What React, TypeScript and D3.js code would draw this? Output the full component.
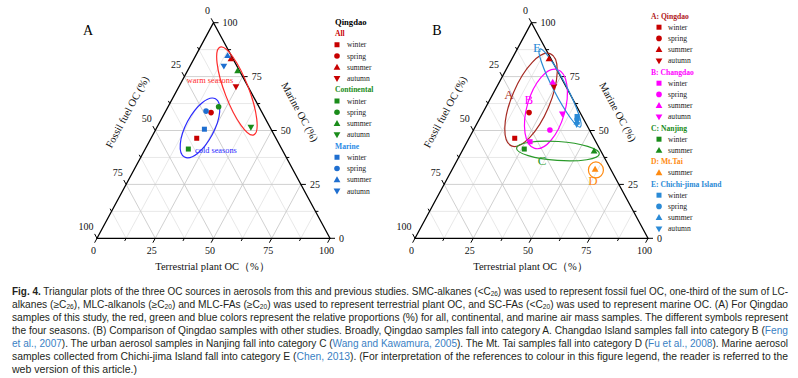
import React from 'react';
import * as d3 from 'd3';

const W = 798, H = 378;
const SERIF = '"Liberation Serif", "DejaVu Serif", serif';
const SANS = '"Liberation Sans", "DejaVu Sans", sans-serif';

// ---------- data ----------
const seasons = ['winter', 'spring', 'summer', 'autumn'];
const seasonShapes = ['square', 'circle', 'triangle', 'triangleDown'];

// Panel A (Qingdao, this study)  values in %
const allFossil = [34.0, 21.9, 0.9, 5.2];
const allTerr = [19.6, 19.8, 15.9, 24.5];
const allMarine = [46.4, 58.3, 83.2, 70.3];
const contFossil = [40.1, 17.3, 0.8, 8.2];
const contTerr = [18.5, 21.7, 21.5, 40.3];
const contMarine = [41.4, 61.0, 77.7, 51.5];
const marFossil = [28.6, 23.7, 1.6, 5.6];
const marTerr = [20.8, 17.3, 13.7, 14.5];
const marMarine = [50.6, 59.0, 84.7, 79.9];

// Panel B (comparison)
const cdFossil = [28.2, 17.0, 4.7, 7.9];
const cdTerr = [27.0, 32.8, 22.9, 34.4];
const cdMarine = [44.8, 50.2, 72.4, 57.7];
const njSeasons = ['winter', 'summer'];
const njFossil = [32.4, 2.9];
const njTerr = [26.2, 56.6];
const njMarine = [41.4, 40.5];
const mtSeasons = ['summer'];
const mtFossil = [6.7];
const mtTerr = [61.3];
const mtMarine = [32.0];
const cjFossil = [2.2, 2.9, 3.6, 4.2];
const cjTerr = [41.3, 42.0, 42.5, 43.0];
const cjMarine = [56.5, 55.1, 53.9, 52.8];

const majorTicks = [0, 25, 50, 75, 100];
const minorTicks = [12.5, 37.5, 62.5, 87.5];

// ---------- colours ----------
const COL = {
  red: '#c80000',
  green: '#1a8c1a',
  blue: '#1f6fd0',
  magenta: '#ff00ff',
  orange: '#ff8a10',
  cj: '#2a8ad6',
  darkred: '#a52a22',
  warm: '#ff2a2a',
  cold: '#2a2aff',
  grid: '#c4c4c4',
  gridMinor: '#e2e2e2',
};

const shapeOf = (s: string) => seasonShapes[seasons.indexOf(s)];

function Marker({ shape, x, y, color }: { shape: string; x: number; y: number; color: string }) {
  if (shape === 'square') return <rect x={x - 2.5} y={y - 2.5} width={5} height={5} fill={color} />;
  if (shape === 'circle') return <circle cx={x} cy={y} r={2.8} fill={color} />;
  if (shape === 'triangle')
    return <path d={`M${x},${y - 3.5}L${x + 3.4},${y + 2.4}L${x - 3.4},${y + 2.4}Z`} fill={color} />;
  return <path d={`M${x},${y + 3.5}L${x + 3.4},${y - 2.4}L${x - 3.4},${y - 2.4}Z`} fill={color} />;
}

type Geo = { x0: number; x1: number; yBase: number; yApex: number };

function makeTern(g: Geo) {
  const xs = d3.scaleLinear().domain([0, 100]).range([g.x0, g.x1]);
  const ys = d3.scaleLinear().domain([0, 100]).range([g.yBase, g.yApex]);
  return (T: number, M: number): [number, number] => [xs(T + M / 2), ys(M)];
}

function Ternary({ g }: { g: Geo }) {
  const p = makeTern(g);
  const apex = p(0, 100), bl = p(0, 0), br = p(100, 0);
  const norm = (v: [number, number]) => {
    const l = Math.hypot(v[0], v[1]);
    return [v[0] / l, v[1] / l];
  };
  const dB = norm([bl[0] - apex[0], bl[1] - apex[1]]);
  const dL = norm([apex[0] - br[0], apex[1] - br[1]]);
  const grid: JSX.Element[] = [];
  const addGrid = (v: number, col: string, key: string) => {
    const a1 = p(0, v), a2 = p(100 - v, v);
    const b1 = p(v, 0), b2 = p(v, 100 - v);
    const c1 = p(100 - v, 0), c2 = p(0, 100 - v);
    [[a1, a2], [b1, b2], [c1, c2]].forEach(([s, e], i) =>
      grid.push(<line key={key + i} x1={s[0]} y1={s[1]} x2={e[0]} y2={e[1]} stroke={col} strokeWidth={0.8} />)
    );
  };
  minorTicks.forEach((v) => addGrid(v, COL.gridMinor, 'm' + v));
  majorTicks.slice(1, -1).forEach((v) => addGrid(v, COL.grid, 'M' + v));

  const ticks: JSX.Element[] = [];
  const labels: JSX.Element[] = [];
  const allT = [...majorTicks.map((v) => [v, 5]), ...minorTicks.map((v) => [v, 3])];
  allT.forEach(([v, len]) => {
    const eb = p(v, 0);
    ticks.push(<line key={'tb' + v} x1={eb[0]} y1={eb[1]} x2={eb[0] + dB[0] * len} y2={eb[1] + dB[1] * len} stroke="#000" strokeWidth={1} />);
    const el = p(0, 100 - v);
    ticks.push(<line key={'tl' + v} x1={el[0]} y1={el[1]} x2={el[0] + dL[0] * len} y2={el[1] + dL[1] * len} stroke="#000" strokeWidth={1} />);
    const er = p(100 - v, v);
    ticks.push(<line key={'tr' + v} x1={er[0]} y1={er[1]} x2={er[0] + len} y2={er[1]} stroke="#000" strokeWidth={1} />);
  });
  majorTicks.forEach((v) => {
    const eb = p(v, 0);
    labels.push(<text key={'lb' + v} x={eb[0] - 3.5} y={eb[1] + 12} textAnchor="middle" dominantBaseline="central">{v}</text>);
    const el = p(0, 100 - v);
    labels.push(<text key={'ll' + v} x={el[0] - 3.5} y={el[1] - 12} textAnchor="end" dominantBaseline="central">{v}</text>);
    const er = p(100 - v, v);
    labels.push(<text key={'lr' + v} x={er[0] + 9} y={er[1]} textAnchor="start" dominantBaseline="central">{v}</text>);
  });

  const midY = 112;
  const ang = (Math.atan2(bl[1] - apex[1], apex[0] - bl[0]) * 180) / Math.PI;
  const leftEdgeX = apex[0] + ((bl[0] - apex[0]) * (midY - apex[1])) / (bl[1] - apex[1]);
  const rightEdgeX = apex[0] + ((br[0] - apex[0]) * (midY - apex[1])) / (br[1] - apex[1]);

  return (
    <g>
      {grid}
      <path d={`M${apex[0]},${apex[1]}L${br[0]},${br[1]}L${bl[0]},${bl[1]}Z`} fill="none" stroke="#000" strokeWidth={1.3} />
      {ticks}
      <g fontFamily={SERIF} fontSize={10} fill="#111">{labels}</g>
      <g fontFamily={SERIF} fontSize={10.5} fill="#111">
        <text x={leftEdgeX - 38} y={midY} transform={`rotate(${-ang} ${leftEdgeX - 38} ${midY})`} textAnchor="middle" dominantBaseline="central">Fossil fuel OC (%)</text>
        <text x={rightEdgeX + 38} y={midY} transform={`rotate(${ang} ${rightEdgeX + 38} ${midY})`} textAnchor="middle" dominantBaseline="central">Marine OC (%)</text>
        <text x={(bl[0] + br[0]) / 2 - 1} y={bl[1] + 28} textAnchor="middle" dominantBaseline="central">Terrestrial plant OC（%）</text>
      </g>
    </g>
  );
}

function Points({ g, ss, F, T, M, color }: { g: Geo; ss: string[]; F: number[]; T: number[]; M: number[]; color: string }) {
  const p = makeTern(g);
  return (
    <g>
      {ss.map((s, i) => {
        const [x, y] = p(T[i], M[i]);
        return <Marker key={s} shape={shapeOf(s)} x={x} y={y} color={color} />;
      })}
    </g>
  );
}

function Ell({ g, T, M, rx, ry, rot, color, sw = 1.2 }: { g: Geo; T: number; M: number; rx: number; ry: number; rot: number; color: string; sw?: number }) {
  const p = makeTern(g);
  const [cx, cy] = p(T, M);
  return <ellipse cx={cx} cy={cy} rx={rx} ry={ry} transform={`rotate(${rot} ${cx} ${cy})`} fill="none" stroke={color} strokeWidth={sw} />;
}

type LegRow = { kind: 'head' | 'item'; text: string; color: string; shape?: string };

function Legend({ rows, x0, xm, xt, y0, dy, fs = 7.6 }: { rows: LegRow[]; x0: number; xm: number; xt: number; y0: number; dy: number; fs?: number }) {
  return (
    <g fontFamily={SERIF}>
      {rows.map((r, i) => {
        const y = y0 + i * dy;
        if (r.kind === 'head')
          return <text key={i} x={x0} y={y} fontSize={fs} fontWeight="bold" fill={r.color} dominantBaseline="central">{r.text}</text>;
        return (
          <g key={i}>
            <Marker shape={r.shape!} x={xm} y={y} color={r.color} />
            <text x={xt} y={y} fontSize={fs} fill="#222" dominantBaseline="central">{r.text}</text>
          </g>
        );
      })}
    </g>
  );
}

const itemRows = (ss: string[], color: string): LegRow[] => ss.map((s) => ({ kind: 'item', text: s, color, shape: shapeOf(s) }));

const legendA: LegRow[] = [
  { kind: 'head', text: 'All', color: COL.red }, ...itemRows(seasons, COL.red),
  { kind: 'head', text: 'Continental', color: COL.green }, ...itemRows(seasons, COL.green),
  { kind: 'head', text: 'Marine', color: '#2a8ae6' }, ...itemRows(seasons, COL.blue),
];
const legendB: LegRow[] = [
  { kind: 'head', text: 'A: Qingdao', color: '#b0181a' }, ...itemRows(seasons, COL.red),
  { kind: 'head', text: 'B: Changdao', color: COL.magenta }, ...itemRows(seasons, COL.magenta),
  { kind: 'head', text: 'C: Nanjing', color: COL.green }, ...itemRows(njSeasons, COL.green),
  { kind: 'head', text: 'D: Mt.Tai', color: COL.orange }, ...itemRows(mtSeasons, COL.orange),
  { kind: 'head', text: 'E: Chichi-jima Island', color: COL.cj }, ...itemRows(seasons, COL.cj),
];

// ---------- caption ----------
type Seg = { t: string; b?: boolean; c?: string; sub?: boolean };
const REF = '#3a7fc4';
const captionLines: Seg[][] = [
  [{ t: 'Fig. 4.', b: true }, { t: ' Triangular plots of the three OC sources in aerosols from this and previous studies. SMC-alkanes (<C' }, { t: '26', sub: true }, { t: ') was used to represent fossil fuel OC, one-third of the sum of LC-' }],
  [{ t: 'alkanes (≥C' }, { t: '26', sub: true }, { t: '), MLC-alkanols (≥C' }, { t: '20', sub: true }, { t: ') and MLC-FAs (≥C' }, { t: '20', sub: true }, { t: ') was used to represent terrestrial plant OC, and SC-FAs (<C' }, { t: '20', sub: true }, { t: ') was used to represent marine OC. (A) For Qingdao' }],
  [{ t: 'samples of this study, the red, green and blue colors represent the relative proportions (%) for all, continental, and marine air mass samples. The different symbols represent' }],
  [{ t: 'the four seasons. (B) Comparison of Qingdao samples with other studies. Broadly, Qingdao samples fall into category A. Changdao Island samples fall into category B (' }, { t: 'Feng', c: REF }],
  [{ t: 'et al., 2007', c: REF }, { t: '). The urban aerosol samples in Nanjing fall into category C (' }, { t: 'Wang and Kawamura, 2005', c: REF }, { t: '). The Mt. Tai samples fall into category D (' }, { t: 'Fu et al., 2008', c: REF }, { t: '). Marine aerosol' }],
  [{ t: 'samples collected from Chichi-jima Island fall into category E (' }, { t: 'Chen, 2013', c: REF }, { t: '). (For interpretation of the references to colour in this figure legend, the reader is referred to the' }],
  [{ t: 'web version of this article.)' }],
];

function Caption() {
  return (
    <g fontFamily={SANS} fontSize={10} fill="#231f20">
      {captionLines.map((segs, li) => {
        const y = 294.5 + li * 13.05;
        const last = li === captionLines.length - 1;
        const kids: JSX.Element[] = [];
        let shifted = false;
        segs.forEach((s, si) => {
          let dy: number | undefined;
          if (s.sub && !shifted) { dy = 1.8; shifted = true; }
          else if (!s.sub && shifted) { dy = -1.8; shifted = false; }
          kids.push(
            <tspan key={si} dy={dy} fontWeight={s.b ? 'bold' : undefined} fill={s.c} fontSize={s.sub ? 6.5 : undefined}>{s.t}</tspan>
          );
        });
        return (
          <text key={li} x={12} y={y} textLength={last ? 125 : 776} lengthAdjust="spacingAndGlyphs" style={{ whiteSpace: 'pre' }}>
            {kids}
          </text>
        );
      })}
    </g>
  );
}

const geoA: Geo = { x0: 97, x1: 330, yBase: 238.3, yApex: 22.7 };
const geoB: Geo = { x0: 415, x1: 648, yBase: 238.3, yApex: 22.7 };

export default function App() {
  const pB = makeTern(geoB);
  const lab = (T: number, M: number, txt: string, color: string) => {
    const [x, y] = pB(T, M);
    return <text x={x} y={y} fill={color} fontFamily={SERIF} fontSize={13} textAnchor="middle" dominantBaseline="central">{txt}</text>;
  };
  const pA = makeTern(geoA);
  const [wx, wy] = pA(11.8, 73.4);
  const [cx, cy] = pA(30.6, 40.9);
  return (
    <div style={{ position: 'absolute', left: 0, top: 0 }}>
      <svg width={W} height={H} viewBox={`0 0 ${W} ${H}`} style={{ display: 'block', background: '#fff' }}>
        <rect width={W} height={H} fill="#fff" />
        {/* Panel A */}
        <text x={88} y={30} fontFamily={SERIF} fontSize={14} textAnchor="middle" dominantBaseline="central">A</text>
        <Ternary g={geoA} />
        <Ell g={geoA} T={25.9} M={68.3} rx={47} ry={12} rot={69} color={COL.warm} />
        <Ell g={geoA} T={18.6} M={51.2} rx={33} ry={14} rot={-62} color={COL.cold} />
        <Points g={geoA} ss={seasons} F={allFossil} T={allTerr} M={allMarine} color={COL.red} />
        <Points g={geoA} ss={seasons} F={contFossil} T={contTerr} M={contMarine} color={COL.green} />
        <Points g={geoA} ss={seasons} F={marFossil} T={marTerr} M={marMarine} color={COL.blue} />
        <text x={wx} y={wy} fill={COL.warm} fontFamily={SERIF} fontSize={8.3} textAnchor="middle" dominantBaseline="central">warm seasons</text>
        <text x={cx} y={cy} fill={COL.cold} fontFamily={SERIF} fontSize={8.3} textAnchor="middle" dominantBaseline="central">cold seasons</text>
        <text x={335} y={22} fontFamily={SERIF} fontSize={8.6} fontWeight="bold" dominantBaseline="central">Qingdao</text>
        <Legend rows={legendA} x0={335} xm={337} xt={347} y0={33.5} dy={11.25} />

        {/* Panel B */}
        <text x={437} y={30} fontFamily={SERIF} fontSize={14} textAnchor="middle" dominantBaseline="central">B</text>
        <Ternary g={geoB} />
        <Ell g={geoB} T={17.7} M={64.2} rx={50} ry={19} rot={-67} color={COL.darkred} />
        <Ell g={geoB} T={26.2} M={60} rx={41} ry={19} rot={-74} color={COL.magenta} />
        <Ell g={geoB} T={41.1} M={40.5} rx={41.5} ry={9.5} rot={4} color="#2a9a2a" />
        <Ell g={geoB} T={61.8} M={31.7} rx={7.5} ry={8} rot={0} color={COL.orange} />
        <Ell g={geoB} T={27.4} M={69.7} rx={44} ry={6.5} rot={62.5} color={COL.cj} />
        <Points g={geoB} ss={seasons} F={allFossil} T={allTerr} M={allMarine} color={COL.red} />
        <Points g={geoB} ss={seasons} F={cdFossil} T={cdTerr} M={cdMarine} color={COL.magenta} />
        <Points g={geoB} ss={njSeasons} F={njFossil} T={njTerr} M={njMarine} color={COL.green} />
        <Points g={geoB} ss={mtSeasons} F={mtFossil} T={mtTerr} M={mtMarine} color={COL.orange} />
        <Points g={geoB} ss={seasons} F={cjFossil} T={cjTerr} M={cjMarine} color={COL.cj} />
        {lab(6.9, 66.9, 'A', COL.darkred)}
        {lab(16.6, 64.6, 'B', COL.magenta)}
        {lab(36.4, 36.3, 'C', '#2a9a2a')}
        {lab(63.1, 26.6, 'D', COL.orange)}
        {lab(8.2, 88.3, 'E', COL.cj)}
        <Legend rows={legendB} x0={651} xm={659} xt={668} y0={16} dy={11.2} />

        <Caption />
      </svg>
    </div>
  );
}
